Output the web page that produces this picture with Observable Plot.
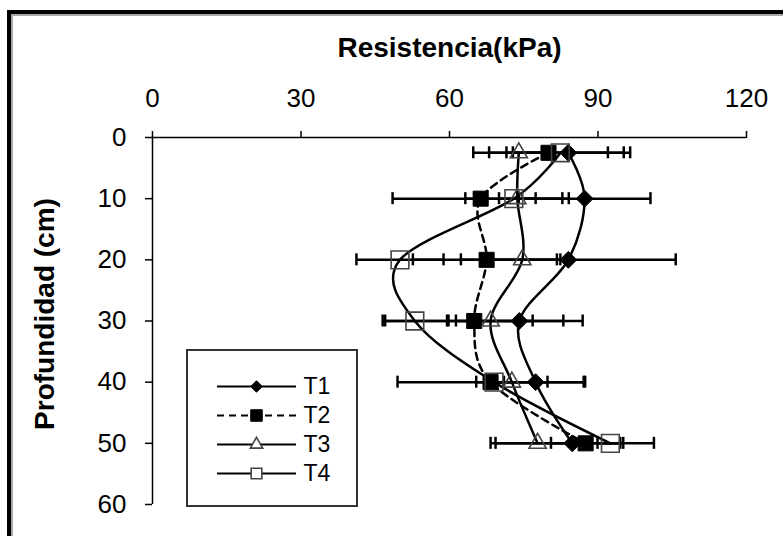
<!DOCTYPE html>
<html>
<head>
<meta charset="utf-8">
<script src="https://cdn.jsdelivr.net/npm/d3@7"></script>
<script src="https://cdn.jsdelivr.net/npm/@observablehq/plot@0.6"></script>
<style>
  html, body { margin: 0; padding: 0; background: #fff; }
  #wrap { position: relative; width: 783px; height: 536px; overflow: hidden; background: #fff; font-family: "Liberation Sans", Arial, sans-serif; }
  #frame { position: absolute; left: 7px; top: 10px; width: 900px; height: 700px; border-left: 4px solid #000; border-top: 4px solid #000; }
  #frame2 { position: absolute; left: 0; top: 0; width: 100%; height: 100%; border-left: 2px solid #a8a8a8; border-top: 2px solid #a8a8a8; }
  #chart { position: absolute; left: 0; top: 0; }
  #legend { position: absolute; left: 186px; top: 349px; border: 2px solid #333; background: #fff; line-height: 0; }
</style>
</head>
<body>
<div id="wrap">
  <div id="frame"><div id="frame2"></div></div>
  <div id="chart"></div>
  <div id="legend"></div>
</div>
<script>
// ---- data ----
const depths = [2.5, 10, 20, 30, 40, 50];            // Profundidad (cm)
const seriesNames = ["T1", "T2", "T3", "T4"];
const t1 = [84, 87.3, 84, 74.1, 77.4, 84.8];          // Resistencia (kPa)
const t2 = [80, 66.3, 67.5, 65, 68.3, 87.5];
const t3 = [74, 73.7, 74.7, 68.3, 72.6, 77.8];
const t4 = [82.4, 73, 50, 53, 69, 92.5];
const e1 = [12.5, 13.3, 21.7, 12.8, 10, 16.5];        // error bar half-widths
const e2 = [15.2, 17.8, 14.9, 18, 18.8, 7];
const e3 = [6, 3.7, 7, 8.5, 7.2, 8.5];
const e4 = [9.6, 9.8, 8.8, 6.5, 2, 2.6];
const xTicks = [0, 30, 60, 90, 120];
const yTicks = [0, 10, 20, 30, 40, 50, 60];
const xTitle = "Resistencia(kPa)";
const yTitle = "Profundidad (cm)";

// ---- build tables ----
const values = {T1: t1, T2: t2, T3: t3, T4: t4};
const errors = {T1: e1, T2: e2, T3: e3, T4: e4};
const rows = seriesNames.flatMap(s => depths.map((d, i) => ({
  series: s, depth: d, v: values[s][i], lo: values[s][i] - errors[s][i], hi: values[s][i] + errors[s][i]
})));
const caps = rows.flatMap(r => [{series: r.series, depth: r.depth, v: r.lo}, {series: r.series, depth: r.depth, v: r.hi}]);

const styles = {
  T1: {symbol: "diamond2", r: 7.6, fill: "#000", stroke: "#000", sw: 1, dash: null},
  T2: {symbol: "square", r: 8.5, fill: "#000", stroke: "#000", sw: 1, dash: "7,5"},
  T3: {symbol: "triangle", r: 6.4, fill: "none", stroke: "#444", sw: 1.6, dash: null},
  T4: {symbol: "square", r: 10, fill: "none", stroke: "#444", sw: 1.6, dash: null}
};

const font = '"Liberation Sans", Arial, sans-serif';

const marks = [
  Plot.axisX({anchor: "top", ticks: xTicks, tickSize: 7, tickPadding: 24, label: null, fontSize: 26, strokeWidth: 1.5}),
  Plot.axisY({anchor: "left", ticks: yTicks, tickSize: 7, tickPadding: 19, label: null, fontSize: 26, strokeWidth: 1.5}),
  Plot.ruleY([0], {strokeWidth: 1.5}),
  Plot.ruleX([0], {strokeWidth: 1.5}),
  Plot.text([xTitle], {text: d => d, frameAnchor: "top", textAnchor: "middle", lineAnchor: "middle", dy: -89, fontWeight: "bold", fontSize: 28}),
  Plot.text([yTitle], {text: d => d, frameAnchor: "left", textAnchor: "middle", lineAnchor: "middle", dx: -107, dy: -7, rotate: -90, fontWeight: "bold", fontSize: 28}),
  // error bars
  Plot.ruleY(rows, {y: "depth", x1: "lo", x2: "hi", stroke: "#000", strokeWidth: 2.5}),
  Plot.ruleX(caps, {x: "v", y1: "depth", y2: "depth", insetTop: -6, insetBottom: -6, stroke: "#000", strokeWidth: 2.5})
];
for (const s of seriesNames) {
  const st = styles[s];
  marks.push(Plot.line(rows.filter(r => r.series === s), {
    x: "v", y: "depth", curve: "cardinal", stroke: "#000", strokeWidth: 2.5,
    strokeDasharray: st.dash || undefined
  }));
}
for (const s of seriesNames) {
  const st = styles[s];
  marks.push(Plot.dot(rows.filter(r => r.series === s), {
    x: "v", y: "depth", symbol: st.symbol, r: st.r, fill: st.fill, stroke: st.stroke, strokeWidth: st.sw
  }));
}

const chart = Plot.plot({
  width: 783, height: 536,
  marginTop: 137, marginRight: 37, marginBottom: 32, marginLeft: 152,
  x: {domain: [0, 120]},
  y: {domain: [0, 60], reverse: true},
  style: {fontFamily: font, fontSize: "26px", color: "#000", background: "transparent", overflow: "visible"},
  marks
});
document.getElementById("chart").appendChild(chart);

// ---- legend (its own small Plot) ----
const legendLayout = {width: 168, height: 154, lineStart: 29, lineEnd: 108, marker: 68, label: 115, top: 19, bottom: 137};
const legendSizes = {T1: 5.2, T2: 6.5, T3: 4.6, T4: 6};
const legendRows = seriesNames.map(s => ({series: s}));
const lmarks = [];
for (const s of seriesNames) {
  const st = styles[s];
  const rs = legendRows.filter(r => r.series === s);
  lmarks.push(Plot.ruleY(rs, {y: "series", x1: () => legendLayout.lineStart, x2: () => legendLayout.lineEnd,
    stroke: "#000", strokeWidth: 2.2, strokeDasharray: st.dash || undefined}));
  lmarks.push(Plot.dot(rs, {y: "series", x: () => legendLayout.marker, symbol: st.symbol, r: legendSizes[s],
    fill: st.fill === "none" ? "#fff" : st.fill, stroke: st.stroke, strokeWidth: st.sw}));
}
lmarks.push(Plot.text(legendRows, {y: "series", x: () => legendLayout.label, text: "series", textAnchor: "start", fontSize: 23}));
const legend = Plot.plot({
  width: legendLayout.width, height: legendLayout.height, margin: 0,
  x: {type: "identity"},
  y: {type: "point", domain: seriesNames, range: [legendLayout.top, legendLayout.bottom]},
  axis: null,
  style: {fontFamily: font, fontSize: "23px", color: "#000", background: "#fff"},
  marks: lmarks
});
document.getElementById("legend").appendChild(legend);
</script>
</body>
</html>
